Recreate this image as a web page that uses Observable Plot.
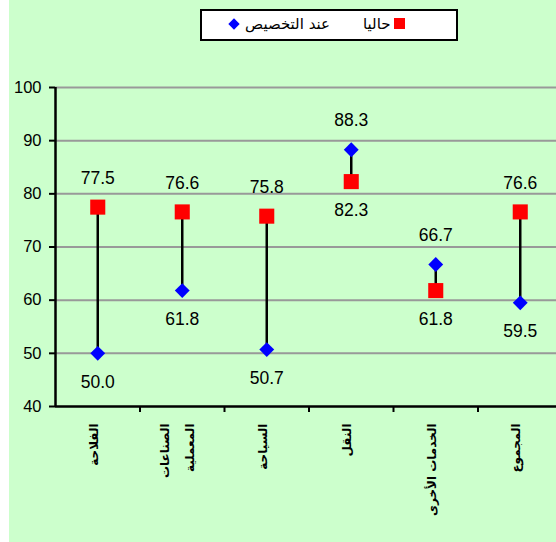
<!DOCTYPE html>
<html>
<head>
<meta charset="utf-8">
<script src="https://cdn.jsdelivr.net/npm/d3@7"></script>
<script src="https://cdn.jsdelivr.net/npm/@observablehq/plot@0.6"></script>
<style>
  html, body { margin: 0; padding: 0; background: #ffffff; overflow: hidden; }
  #wrap { position: relative; width: 556px; height: 542px; overflow: hidden; }
  #bg { position: absolute; left: 9px; top: 0; width: 547px; height: 542px; background: #ccffcc; }
  #chart { position: absolute; left: 0; top: 0; width: 562px; height: 542px; }
  #chart svg { max-width: none !important; width: 562px; height: 542px; }
  #legend { position: absolute; left: 200px; top: 9px; width: 254px; height: 28px; background: #ffffff; border: 2px solid #000; }
  .lg { position: absolute; font-family: "DejaVu Sans", sans-serif; font-size: 15px; color: #000; top: 4px; white-space: nowrap; }
  .sw-sq { position: absolute; width: 11px; height: 11px; background: #ff0000; top: 7px; }
  .sw-di { position: absolute; width: 8px; height: 8px; background: #0000ff; transform: rotate(45deg); top: 9px; }
</style>
</head>
<body>
<div id="wrap">
  <div id="bg"></div>
  <div id="chart"></div>
  <div id="legend"></div>
</div>
<script>
const categories = ["الفلاحة", "الصناعات\nالمعملية", "السياحة", "النقل", "الخدمات الأخرى", "المجموع"];
const current = [77.5, 76.6, 75.8, 82.3, 61.8, 76.6];        // حاليا
const atAllocation = [50.0, 61.8, 50.7, 88.3, 66.7, 59.5];   // عند التخصيص
const yTicks = [40, 50, 60, 70, 80, 90, 100];
const seriesNames = ["حاليا", "عند التخصيص"];

const rows = categories.map((c, i) => ({i, cat: c, cur: current[i], alloc: atAllocation[i]}));
const xc = d => d.i + 0.5;
const fmt = v => v.toFixed(1);
const labelOpts = {x: xc, text: "cat", frameAnchor: "bottom", dy: 17, rotate: -90, textAnchor: "end",
  fontFamily: "'DejaVu Sans', sans-serif", fontWeight: "bold", fontSize: 12, lineHeight: 2.1, fill: "#000"};

const chart = Plot.plot({
  width: 562,
  height: 542,
  marginLeft: 55,
  marginRight: 0,
  marginTop: 87,
  marginBottom: 136,
  style: {background: "transparent", fontFamily: "'Liberation Sans', Arial, sans-serif", color: "#000", overflow: "visible"},
  x: {type: "linear", domain: [0, categories.length], axis: null},
  y: {domain: [40, 100], axis: null},
  marks: [
    Plot.ruleY(yTicks.filter(t => t > 40), {stroke: "#999999", strokeWidth: 2}),
    Plot.ruleX(rows, {x: xc, y1: "cur", y2: "alloc", stroke: "#000", strokeWidth: 2.5}),
    Plot.dot(rows, {x: xc, y: "cur", symbol: "square", r: 8.5, fill: "#ff0000"}),
    Plot.dot(rows, {x: xc, y: "alloc", symbol: "diamond2", r: 6.7, fill: "#0000ff"}),
    Plot.text(rows, {x: xc, y: d => Math.max(d.cur, d.alloc), text: d => fmt(Math.max(d.cur, d.alloc)), dy: -29, fontSize: 17.5, fill: "#000"}),
    Plot.text(rows, {x: xc, y: d => Math.min(d.cur, d.alloc), text: d => fmt(Math.min(d.cur, d.alloc)), dy: 29, fontSize: 17.5, fill: "#000"}),
    Plot.axisY({ticks: yTicks, tickSize: 6, tickPadding: 8, fontSize: 16.5, tickFormat: d => d, label: null, strokeWidth: 2}),
    Plot.axisX({ticks: d3.range(1, categories.length + 1), tickSize: 6, tickFormat: () => "", label: null, strokeWidth: 2}),
    Plot.ruleX([0], {stroke: "#000", strokeWidth: 2.5}),
    Plot.ruleY([40], {stroke: "#000", strokeWidth: 2.5}),
    Plot.text(rows.filter(d => !d.cat.includes("\n")), labelOpts),
    Plot.text(rows.filter(d => d.cat.includes("\n")), {...labelOpts, dx: 12})
  ]
});
document.getElementById("chart").appendChild(chart);

const lg = document.getElementById("legend");
lg.innerHTML = `
  <div class="sw-di" style="left:28px"></div>
  <div class="lg" style="left:43px">${seriesNames[1]}</div>
  <div class="lg" style="left:161px">${seriesNames[0]}</div>
  <div class="sw-sq" style="left:192px"></div>
`;
</script>
</body>
</html>
